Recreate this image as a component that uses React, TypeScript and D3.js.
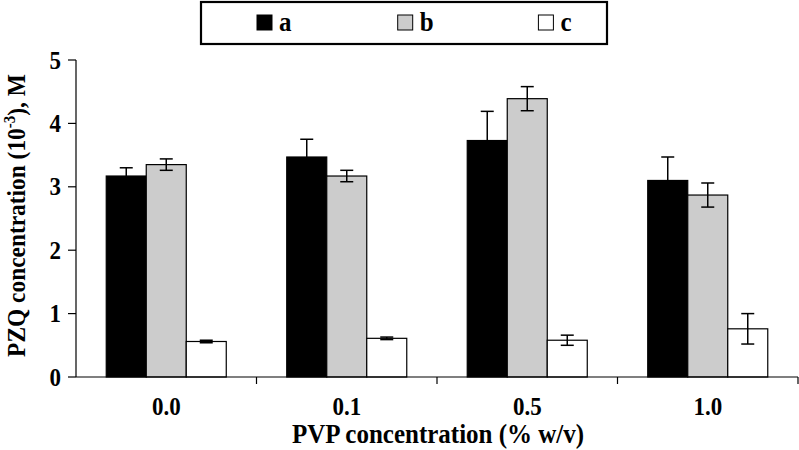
import React from "react";
import * as d3 from "d3";

const categories = ["0.0", "0.1", "0.5", "1.0"];
const seriesNames = ["a", "b", "c"];
const seriesFill = ["#000000", "#cccccc", "#ffffff"];
const valuesA = [3.17, 3.47, 3.73, 3.10];
const errorsA = [0.13, 0.28, 0.46, 0.37];
const valuesB = [3.35, 3.17, 4.39, 2.87];
const errorsB = [0.09, 0.09, 0.19, 0.19];
const valuesC = [0.56, 0.61, 0.58, 0.76];
const errorsC = [0.02, 0.02, 0.08, 0.24];
const yTicks = [0, 1, 2, 3, 4, 5];

const W = 799;
const H = 450;
const left = 76;
const right = 798;
const top = 60;
const bottom = 377;

export default function App() {
  const x = d3.scaleBand<string>().domain(categories).range([left, right]).paddingInner(0).paddingOuter(0);
  const inner = d3.scaleBand<string>().domain(seriesNames).range([0, x.bandwidth()]).paddingInner(0).paddingOuter(0.756);
  const y = d3.scaleLinear().domain([0, 5]).range([bottom, top]);
  const vals = [valuesA, valuesB, valuesC];
  const errs = [errorsA, errorsB, errorsC];
  const font = "'Liberation Serif', 'Times New Roman', serif";
  const boundaries = categories.map((c) => (x(c) as number) + x.bandwidth());
  const sy = 1.12;

  return (
    <svg width={W} height={H} style={{ position: "absolute", left: 0, top: 0, background: "#fff" }} fontFamily={font}>
      <rect x={0} y={0} width={W} height={H} fill="#fff" />
      {categories.map((c, ci) =>
        seriesNames.map((s, si) => {
          const bx = (x(c) as number) + (inner(s) as number);
          const bw = inner.bandwidth();
          const v = vals[si][ci];
          const e = errs[si][ci];
          const cx = bx + bw / 2;
          return (
            <g key={c + s}>
              <rect x={bx} y={y(v)} width={bw} height={y(0) - y(v)} fill={seriesFill[si]} stroke="#000" strokeWidth={1.2} />
              <line x1={cx} x2={cx} y1={y(v + e)} y2={y(v - e)} stroke="#000" strokeWidth={1.5} />
              <line x1={cx - 6.5} x2={cx + 6.5} y1={y(v + e)} y2={y(v + e)} stroke="#000" strokeWidth={1.5} />
              <line x1={cx - 6.5} x2={cx + 6.5} y1={y(v - e)} y2={y(v - e)} stroke="#000" strokeWidth={1.5} />
            </g>
          );
        })
      )}
      {/* y axis */}
      <line x1={left} x2={left} y1={top} y2={bottom} stroke="#000" strokeWidth={1.2} />
      {yTicks.map((t) => (
        <g key={t}>
          <line x1={left - 8} x2={left} y1={y(t)} y2={y(t)} stroke="#000" strokeWidth={1.2} />
          <text transform={`translate(${left - 15}, ${y(t) + 8.5}) scale(1, ${sy})`} textAnchor="end" fontSize={23} fontWeight="bold">{t}</text>
        </g>
      ))}
      {/* x axis */}
      <line x1={left} x2={right} y1={bottom} y2={bottom} stroke="#000" strokeWidth={1.2} />
      {boundaries.map((b, i) => (
        <line key={i} x1={b} x2={b} y1={bottom} y2={bottom + 7} stroke="#000" strokeWidth={1.2} />
      ))}
      {categories.map((c) => (
        <text key={c} transform={`translate(${(x(c) as number) + x.bandwidth() / 2}, 415) scale(1, ${sy})`} textAnchor="middle" fontSize={23} fontWeight="bold">{c}</text>
      ))}
      <text transform={`translate(438, 443) scale(1, 1.06)`} textAnchor="middle" fontSize={25} fontWeight="bold">PVP concentration (% w/v)</text>
      <text transform={`translate(25, 215.5) rotate(-90) scale(1, 1.08)`} textAnchor="middle" fontSize={23.4} fontWeight="bold">
        PZQ concentration (10<tspan dy={-9} fontSize={15}>-3</tspan><tspan dy={9}>), M</tspan>
      </text>
      {/* legend */}
      <rect x={201} y={2} width={406} height={42} fill="#fff" stroke="#000" strokeWidth={2.2} />
      {seriesNames.map((s, i) => {
        const lx = 257 + i * 140.7;
        return (
          <g key={s}>
            <rect x={lx} y={15} width={15} height={15} fill={seriesFill[i]} stroke="#000" strokeWidth={1} />
            <text transform={`translate(${lx + 22}, 30.5) scale(1, ${sy})`} fontSize={25} fontWeight="bold">{s}</text>
          </g>
        );
      })}
    </svg>
  );
}
